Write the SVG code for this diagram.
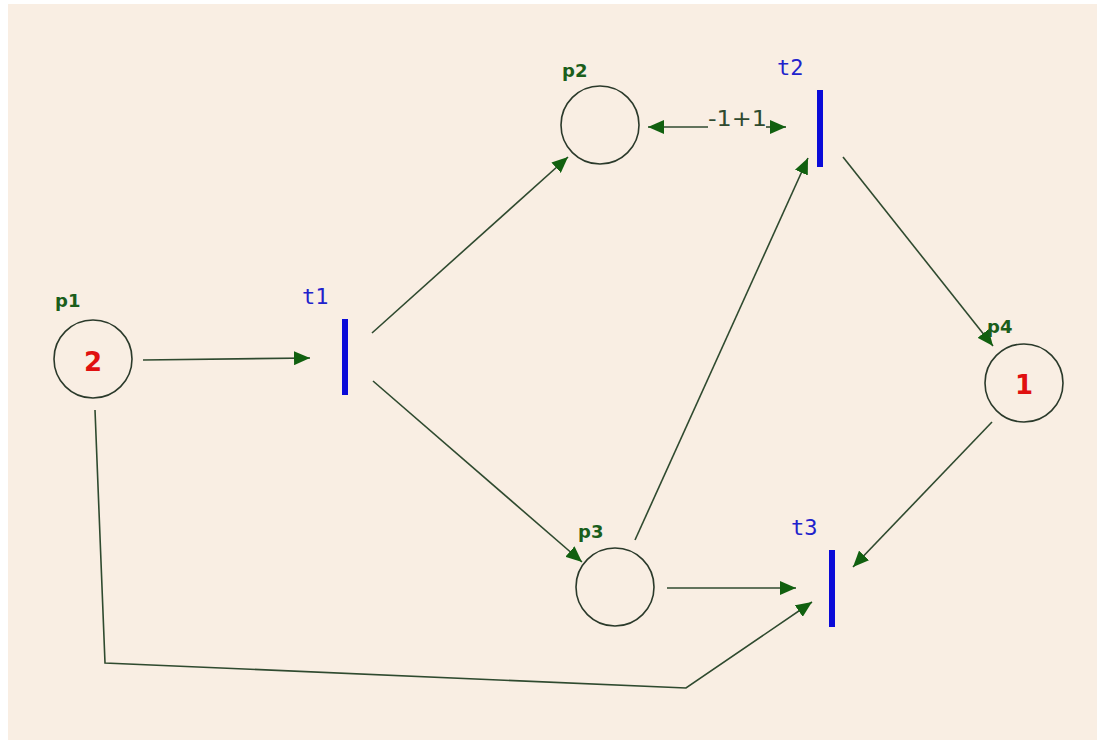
<svg xmlns="http://www.w3.org/2000/svg" width="1097" height="740" viewBox="0 0 1097 740">
<defs>
<marker id="ah" markerUnits="userSpaceOnUse" markerWidth="18" markerHeight="14" refX="16" refY="7" orient="auto-start-reverse">
<path d="M0,0 L16,7 L0,14 Z" fill="#11600f"/>
</marker>
<style>
.place{fill:none;stroke:#2b3a2b;stroke-width:1.6}
.trans{fill:#0a0ad8}
.arc{fill:none;stroke:#2f4a2f;stroke-width:1.6}
.plab{font-family:"DejaVu Sans",sans-serif;font-weight:bold;font-size:18px;fill:#1b5e1b}
.tlab{font-family:"DejaVu Sans Mono",monospace;font-size:22px;fill:#2222cc}
.tok{font-family:"DejaVu Sans",sans-serif;font-weight:bold;font-size:26px;fill:#e01010;text-anchor:middle}
.wt{font-family:"DejaVu Sans",sans-serif;font-size:21px;fill:#2f4a2f}
</style>
</defs>
<rect x="0" y="0" width="1097" height="740" fill="#ffffff"/>
<rect x="8" y="4" width="1089" height="736" fill="#f9eee3"/>
<g id="connectors">
<path class="arc" d="M143,360 L310,358" marker-end="url(#ah)"/>
<path class="arc" d="M372,333 L568,157" marker-end="url(#ah)"/>
<path class="arc" d="M373,381 L582,562" marker-end="url(#ah)"/>
<path class="arc" d="M708,127 L648,127" marker-end="url(#ah)"/>
<path class="arc" d="M766,127 L786,127" marker-end="url(#ah)"/>
<text class="wt" x="708" y="126" textLength="59" lengthAdjust="spacingAndGlyphs">-1+1</text>
<path class="arc" d="M635,540 L808,158" marker-end="url(#ah)"/>
<path class="arc" d="M843,157 L993,346" marker-end="url(#ah)"/>
<path class="arc" d="M992,422 L853,567" marker-end="url(#ah)"/>
<path class="arc" d="M667,588 L796,588" marker-end="url(#ah)"/>
<path class="arc" d="M95,410 L105,663 L686,688 L812,602" marker-end="url(#ah)"/>
</g>
<g id="p1">
<circle class="place" cx="93" cy="359" r="39"/>
<text class="plab" x="55" y="307">p1</text>
<text class="tok" x="93" y="371">2</text>
</g>
<g id="p2">
<circle class="place" cx="600" cy="125" r="39"/>
<text class="plab" x="562" y="77">p2</text>
</g>
<g id="p3">
<circle class="place" cx="615" cy="587" r="39"/>
<text class="plab" x="578" y="538">p3</text>
</g>
<g id="p4">
<circle class="place" cx="1024" cy="383" r="39"/>
<text class="plab" x="987" y="333">p4</text>
<text class="tok" x="1024" y="394">1</text>
</g>
<g id="t1">
<rect class="trans" x="342" y="319" width="6" height="76"/>
<text class="tlab" x="302" y="304">t1</text>
</g>
<g id="t2">
<rect class="trans" x="817" y="90" width="6" height="77"/>
<text class="tlab" x="777" y="75">t2</text>
</g>
<g id="t3">
<rect class="trans" x="829" y="550" width="6" height="77"/>
<text class="tlab" x="791" y="535">t3</text>
</g>
</svg>
